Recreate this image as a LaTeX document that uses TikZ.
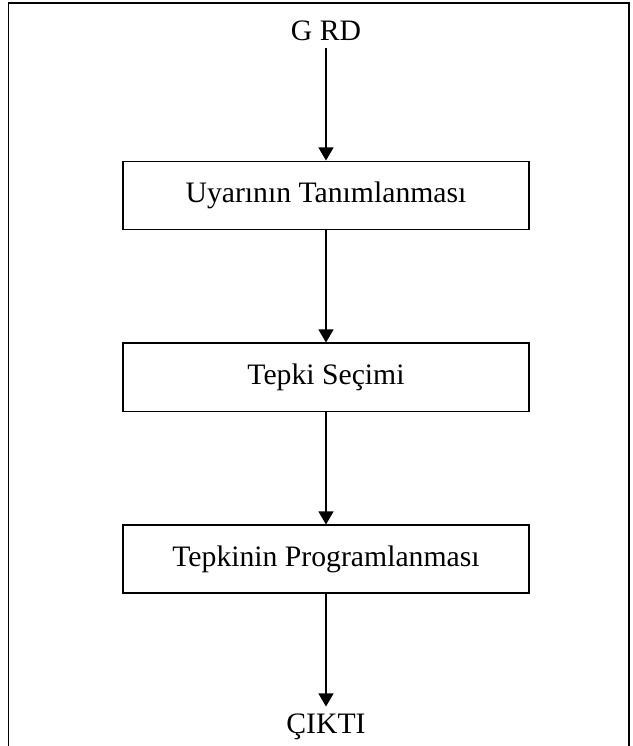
\documentclass[tikz,border=0pt]{standalone}
\usepackage{fontspec}
\setmainfont{Liberation Serif}
\usetikzlibrary{positioning,arrows.meta}

\begin{document}
\begin{tikzpicture}[node distance=2.25cm, font=\fontsize{16.9}{19}\selectfont,
  stage/.style={draw, rectangle, line width=0.85pt, minimum width=8.12cm, minimum height=1.36cm},
  term/.style={inner sep=4pt},
  flow/.style={-{Triangle[length=7.4pt,width=8.5pt]}, line width=0.6pt}]
  \useasboundingbox (0,0) rectangle (12.64,-14.92);
  % Frame
  \draw[line width=0.7pt] (0.17,-15.5) -- (0.17,-0.06) -- (12.58,-0.06) -- (12.58,-15.5);

  % Stages
  \node[term, anchor=south] (Girdi) at (6.52,-0.96) {G RD};
  \node[stage] (Uyari) [below=of Girdi] {Uyarının Tanımlanması};
  \node[stage] (Secim) [below=of Uyari] {Tepki Seçimi};
  \node[stage] (Program) [below=of Secim] {Tepkinin Programlanması};
  \node[term] (Cikti) [below=of Program] {ÇIKTI};

  % Arrows
  \draw[flow] (Girdi) -- (Uyari);
  \draw[flow] (Uyari) -- (Secim);
  \draw[flow] (Secim) -- (Program);
  \draw[flow] (Program) -- (Cikti);
\end{tikzpicture}
\end{document}
